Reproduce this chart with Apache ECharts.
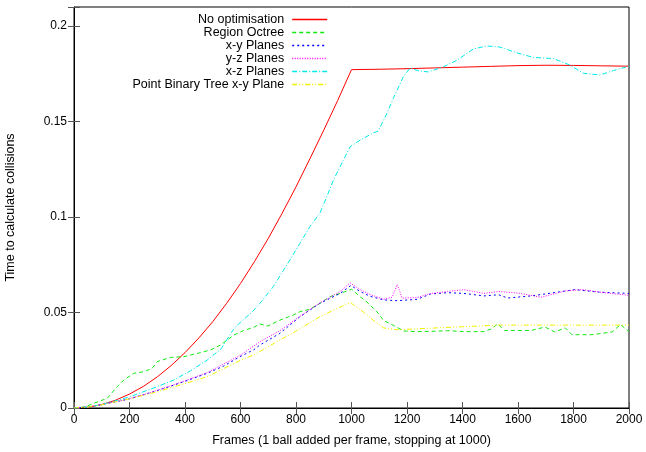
<!DOCTYPE html>
<html>
<head>
<meta charset="utf-8">
<script src="https://cdn.jsdelivr.net/npm/echarts@6/dist/echarts.min.js"></script>
<style>
html, body { margin: 0; padding: 0; background: #fff; }
#chart { width: 646px; height: 452px; }
</style>
</head>
<body>
<div id="chart"></div>
<script>
// series names, in legend order
var seriesNames = ['No optimisation', 'Region Octree', 'x-y Planes', 'y-z Planes', 'x-z Planes', 'Point Binary Tree x-y Plane'];

// [frame, seconds]
var noOptData = [[0,0],[50,0.0004],[100,0.0018],[150,0.0041],[200,0.0073],[250,0.0113],[300,0.0163],[350,0.0222],[400,0.029],[450,0.0367],[500,0.0452],[550,0.0548],[600,0.0652],[650,0.0766],[700,0.0888],[750,0.102],[800,0.1158],[850,0.1305],[900,0.1455],[950,0.161],[1000,0.1772],[1100,0.1774],[1200,0.1777],[1300,0.1781],[1400,0.1785],[1500,0.1789],[1600,0.1793],[1700,0.1795],[1800,0.1794],[1900,0.1792],[2000,0.179]];
var octreeData = [[0,0],[40,0.0006],[72,0.0025],[120,0.0051],[156,0.0112],[180,0.0147],[216,0.0182],[252,0.019],[282,0.0208],[300,0.0243],[348,0.0265],[396,0.0269],[456,0.029],[492,0.0304],[528,0.033],[576,0.0382],[610,0.0405],[648,0.0423],[670,0.044],[697,0.0429],[742,0.046],[790,0.0487],[814,0.0504],[850,0.0517],[886,0.0548],[922,0.0583],[959,0.06],[1001,0.0622],[1031,0.0583],[1061,0.0548],[1092,0.0503],[1116,0.0458],[1152,0.0432],[1189,0.0403],[1236,0.04],[1300,0.0402],[1346,0.0405],[1405,0.04],[1477,0.04],[1503,0.0414],[1527,0.044],[1551,0.0406],[1647,0.0406],[1697,0.0424],[1733,0.0398],[1770,0.042],[1794,0.0384],[1866,0.0384],[1939,0.0398],[1969,0.0437],[2000,0.04]];
var xyData = [[0,0],[50,0.0005],[100,0.0018],[192,0.0045],[280,0.0082],[360,0.012],[420,0.015],[480,0.0182],[540,0.022],[598,0.0269],[648,0.0305],[670,0.033],[742,0.0391],[814,0.0478],[886,0.0548],[959,0.06],[998,0.0642],[1031,0.061],[1067,0.0585],[1116,0.0566],[1164,0.0562],[1236,0.0569],[1285,0.0597],[1346,0.0604],[1405,0.06],[1477,0.0587],[1530,0.0593],[1563,0.0576],[1647,0.0587],[1721,0.0602],[1805,0.062],[1890,0.0607],[2000,0.06]];
var yzData = [[0,0],[50,0.0005],[100,0.0018],[192,0.0046],[280,0.0083],[360,0.0122],[480,0.0185],[598,0.0275],[670,0.0347],[742,0.0405],[814,0.048],[886,0.055],[959,0.061],[995,0.0655],[1031,0.062],[1067,0.0594],[1116,0.057],[1146,0.058],[1158,0.062],[1164,0.0647],[1172,0.062],[1182,0.0576],[1236,0.0578],[1285,0.06],[1346,0.061],[1405,0.062],[1477,0.06],[1530,0.061],[1600,0.0602],[1683,0.058],[1770,0.0613],[1832,0.062],[1920,0.0602],[2000,0.059]];
var xzData = [[0,0],[50,0.0005],[100,0.0018],[200,0.0058],[300,0.0112],[360,0.0147],[420,0.0195],[480,0.0251],[530,0.031],[574,0.041],[600,0.045],[640,0.05],[670,0.0548],[718,0.0635],[778,0.0775],[814,0.0862],[850,0.095],[886,0.102],[911,0.1107],[935,0.1194],[971,0.1299],[995,0.1368],[1031,0.1403],[1078,0.144],[1096,0.145],[1127,0.154],[1150,0.162],[1187,0.1735],[1211,0.178],[1245,0.1765],[1277,0.176],[1331,0.1787],[1379,0.182],[1439,0.188],[1487,0.1896],[1535,0.189],[1596,0.186],[1655,0.1836],[1727,0.183],[1787,0.1796],[1835,0.1753],[1895,0.1744],[1944,0.1767],[2000,0.179]];
var pbtData = [[0,0],[50,0.0005],[100,0.0017],[200,0.0048],[300,0.0085],[400,0.0128],[480,0.0164],[600,0.025],[650,0.028],[742,0.0356],[800,0.0403],[886,0.0478],[995,0.0553],[1043,0.0503],[1080,0.0458],[1116,0.0419],[1164,0.041],[1285,0.0418],[1530,0.0434],[2000,0.0434]];

var xTicks = [0, 200, 400, 600, 800, 1000, 1200, 1400, 1600, 1800, 2000];
var yTicks = [0, 0.05, 0.1, 0.15, 0.2];

var FONT = '"Liberation Sans", Arial, sans-serif';
var colors = ['#ff0000', '#10e810', '#0000ff', '#ff00ff', '#00e8e8', '#f0f000'];
var dashes = ['solid', [4, 3], [2, 3], [1, 1.5], [5, 2, 1, 2], [5, 2, 1, 2, 1, 2]];
var allData = [noOptData, octreeData, xyData, yzData, xzData, pbtData];

var series = [], legendData = [];
for (var i = 0; i < seriesNames.length; i++) {
	series.push({
		name: seriesNames[i],
		type: 'line',
		data: allData[i],
		showSymbol: false,
		symbol: 'none',
		animation: false,
		lineStyle: { color: colors[i], width: 1, type: dashes[i] },
		itemStyle: { color: colors[i] }
	});
	legendData.push({
		name: seriesNames[i],
		itemStyle: { opacity: 0 },
		lineStyle: { color: colors[i], width: 1.6, type: dashes[i], opacity: 1 }
	});
}

var chart = echarts.init(document.getElementById('chart'));
var tickStyle = { show: true, inside: true, length: 6, lineStyle: { color: '#555' } };

chart.setOption({
	backgroundColor: '#fff',
	animation: false,
	textStyle: { fontFamily: FONT },
	grid: { left: 74, right: 17, top: 7, bottom: 44, show: true, borderColor: '#000', borderWidth: 1, outerBoundsMode: 'none', containLabel: false },
	legend: {
		orient: 'vertical',
		right: 313,
		top: 8,
		align: 'right',
		itemWidth: 35,
		itemHeight: 8,
		itemGap: 0,
		textStyle: { fontFamily: FONT, fontSize: 12.5, color: '#000', lineHeight: 12.6, padding: [0, 3, 0, 0] },
		data: legendData
	},
	xAxis: [{
		type: 'value', min: 0, max: 2000, interval: 200,
		name: 'Frames (1 ball added per frame, stopping at 1000)',
		nameLocation: 'middle', nameGap: 26,
		nameTextStyle: { fontFamily: FONT, fontSize: 12.5, color: '#000' },
		axisLine: { lineStyle: { color: '#000' } },
		axisTick: tickStyle,
		axisLabel: {
			fontFamily: FONT, fontSize: 12, color: '#000', margin: 6,
			formatter: function(v) { return xTicks.indexOf(v) >= 0 ? String(v) : ''; }
		},
		splitLine: { show: false }
	}, {
		type: 'value', min: 0, max: 2000, interval: 200, position: 'top',
		axisLine: { show: false },
		axisTick: tickStyle,
		axisLabel: { show: false },
		splitLine: { show: false }
	}],
	yAxis: [{
		type: 'value', min: 0, max: 0.21, interval: 0.05,
		name: 'Time to calculate collisions',
		nameLocation: 'middle', nameGap: 57, nameRotate: 90,
		nameTextStyle: { fontFamily: FONT, fontSize: 12.5, color: '#000' },
		axisLine: { show: true, lineStyle: { color: '#000' } },
		axisTick: tickStyle,
		axisLabel: {
			fontFamily: FONT, fontSize: 12, color: '#000', margin: 7,
			formatter: function(v) { return yTicks.indexOf(+v.toFixed(2)) >= 0 ? String(+v.toFixed(2)) : ''; }
		},
		splitLine: { show: false }
	}, {
		type: 'value', min: 0, max: 0.21, interval: 0.05, position: 'right',
		axisLine: { show: false },
		axisTick: tickStyle,
		axisLabel: { show: false },
		splitLine: { show: false }
	}],
	series: series
});
</script>
</body>
</html>
